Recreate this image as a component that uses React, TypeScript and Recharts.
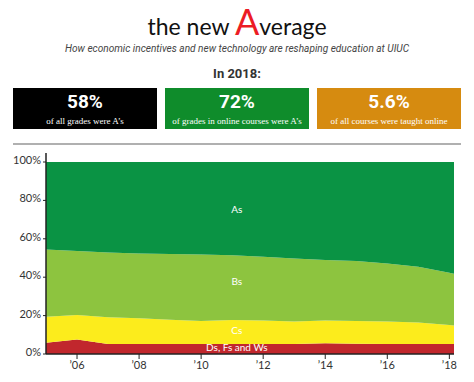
import React from "react";
import { AreaChart, Area, XAxis, YAxis, ReferenceDot } from "recharts";

const years = [2005, 2006, 2007, 2008, 2009, 2010, 2011, 2012, 2013, 2014, 2015, 2016, 2017, 2018, 2018.15];
const dfwShare = [5.9, 7.6, 5.2, 5.2, 5.2, 5.2, 5.2, 5.2, 5.2, 5.6, 5.4, 5.2, 5.2, 5.2, 5.2];
const cShare = [13.5, 12.7, 14.0, 13.4, 12.7, 12.0, 12.5, 12.2, 11.7, 11.8, 11.8, 11.7, 11.2, 9.9, 9.6];
const bShare = [35.0, 33.3, 33.7, 33.8, 34.2, 34.6, 33.7, 33.2, 32.8, 31.5, 31.2, 30.3, 29.0, 27.2, 27.0];
const aShare = [45.6, 46.4, 47.1, 47.6, 47.9, 48.2, 48.6, 49.4, 50.3, 51.1, 51.6, 52.8, 54.6, 57.7, 58.2];

const tickYears = [2006, 2008, 2010, 2012, 2014, 2016, 2018];
const tickLabels = ["\u201906", "\u201908", "\u201910", "\u201912", "\u201914", "\u201916", "\u201918"];
const yTicks = [0, 20, 40, 60, 80, 100];

const seriesLabels = [
  { text: "As", x: 2011.15, y: 75 },
  { text: "Bs", x: 2011.15, y: 37 },
  { text: "Cs", x: 2011.15, y: 11.5 },
  { text: "Ds, Fs and Ws", x: 2011.15, y: 2.8 },
];

const stats = [
  { big: "58%", small: "of all grades were A\u2019s", color: "#000000" },
  { big: "72%", small: "of grades in online courses were A\u2019s", color: "#0f8c2b" },
  { big: "5.6%", small: "of all courses were taught online", color: "#d68b10" },
];

const data = years.map((y, i) => ({
  year: y,
  dfw: dfwShare[i],
  c: cShare[i],
  b: bShare[i],
  a: aShare[i],
}));

const geo = "Lato, 'Open Sans', sans-serif";

export default function App() {
  return (
    <div style={{ position: "absolute", left: 0, top: 0, width: 474, height: 382, background: "#fff", overflow: "hidden" }}>
      <div style={{ position: "absolute", left: 0, top: 0, width: 474, height: 42, display: "flex", justifyContent: "center", alignItems: "baseline", fontFamily: geo, color: "#111", whiteSpace: "pre" }}>
        <span style={{ display: "inline-block", fontSize: 23, lineHeight: "42px" }}>the new </span>
        <span style={{ display: "inline-block", fontSize: 36, lineHeight: "42px", color: "#ec1c24" }}>A</span>
        <span style={{ display: "inline-block", fontSize: 23, lineHeight: "42px" }}>verage</span>
      </div>
      <div style={{ position: "absolute", left: 0, top: 43, width: 474, textAlign: "center", fontFamily: "Roboto, sans-serif", fontStyle: "italic", fontSize: 10.1, color: "#444", whiteSpace: "nowrap" }}>
        How economic incentives and new technology are reshaping education at UIUC
      </div>
      <div style={{ position: "absolute", left: 0, top: 66, width: 474, textAlign: "center", fontFamily: "Roboto, sans-serif", fontWeight: 700, fontSize: 13, color: "#333" }}>
        In 2018:
      </div>
      {stats.map((s, i) => (
        <div key={i} style={{ position: "absolute", left: 13 + i * 152, top: 88, width: 144, height: 41, background: s.color, color: "#fff", textAlign: "center" }}>
          <div style={{ fontFamily: "Roboto, sans-serif", fontWeight: 700, fontSize: 19, lineHeight: "20px", marginTop: 4 }}>{s.big}</div>
          <div style={{ fontFamily: "'Liberation Serif', serif", fontSize: 9, lineHeight: "12px", marginTop: 3, whiteSpace: "nowrap" }}>{s.small}</div>
        </div>
      ))}
      <div style={{ position: "absolute", left: 13, top: 143, width: 448, height: 2, background: "#b0b0b0" }} />
      <div style={{ position: "absolute", left: 0, top: 140 }}>
        <AreaChart width={474} height={242} data={data} margin={{ top: 13, right: 20, left: 0, bottom: 0 }}>
          <XAxis
            dataKey="year"
            type="number"
            domain={[2005, 2018.15]}
            ticks={tickYears}
            tickFormatter={(v: number) => tickLabels[tickYears.indexOf(v)] ?? ""}
            height={28}
            axisLine={{ stroke: "#222", strokeWidth: 1.5 }}
            tickLine={{ stroke: "#222" }}
            tickSize={5}
            tick={{ fill: "#333", fontSize: 11, fontFamily: geo }}
          />
          <YAxis
            type="number"
            domain={[0, 100]}
            ticks={yTicks}
            tickFormatter={(v: number) => `${v}%`}
            width={46}
            padding={{ top: 9, bottom: 0 }}
            axisLine={{ stroke: "#222", strokeWidth: 1.5 }}
            tickLine={{ stroke: "#222" }}
            tickSize={3}
            tick={{ fill: "#333", fontSize: 11, fontFamily: geo, dy: -2 }}
            allowDataOverflow
          />
          <Area type="linear" dataKey="dfw" stackId="1" stroke="none" fill="#c1272d" fillOpacity={1} isAnimationActive={false} />
          <Area type="linear" dataKey="c" stackId="1" stroke="none" fill="#fcec1c" fillOpacity={1} isAnimationActive={false} />
          <Area type="linear" dataKey="b" stackId="1" stroke="none" fill="#8dc43f" fillOpacity={1} isAnimationActive={false} />
          <Area type="linear" dataKey="a" stackId="1" stroke="none" fill="#0a9344" fillOpacity={1} isAnimationActive={false} />
          {seriesLabels.map((l, i) => (
            <ReferenceDot
              key={i}
              x={l.x}
              y={l.y}
              r={0}
              shape={(p: any) => (
                <text x={p.cx} y={p.cy} textAnchor="middle" dominantBaseline="middle" fill="#fff" fontSize={10} fontFamily={geo}>
                  {l.text}
                </text>
              )}
            />
          ))}
        </AreaChart>
      </div>
    </div>
  );
}
